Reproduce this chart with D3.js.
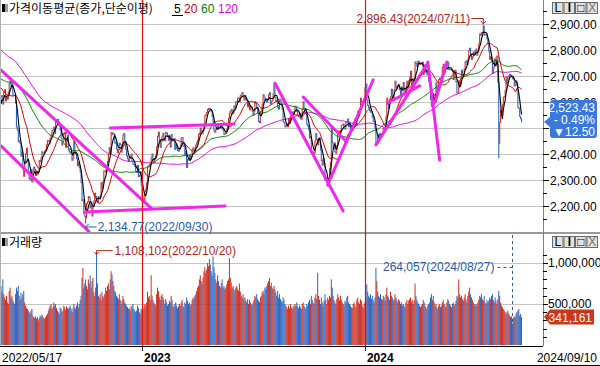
<!DOCTYPE html>
<html><head><meta charset="utf-8">
<script src="https://cdn.jsdelivr.net/npm/d3@7"></script>
<style>
body{margin:0;background:#fff;}
svg{display:block;}
text{font-family:"Liberation Sans",Arial,sans-serif;font-size:12px;}
.kr{font-family:"Noto Sans CJK KR","Liberation Sans",sans-serif;}
</style>
</head><body>
<svg id="c" width="600" height="366"></svg>
<script>
// ---------- DATA ----------
// closes before 2022/05/17 (only used for moving averages)
const preCloses = [
2968,2999,2997,2962,2947,2971,3013,2997,2994,2980,2936,2839,
2899,2945,2968,2973,2991,3001,3029,3009,2989,3006,2989,2990,3017,2963,2977,2984,2998,3012,3020,2993,2977,
2989,2953,2907,2920,2954,2926,2927,2972,2962,2921,2890,2864,2862,2842,2834,2792,2720,2614,2663,
2757,2750,2745,2772,2768,2772,2747,2704,2676,2718,2744,2743,2744,2706,2719,2648,2676,2705,2699,
2703,2713,2651,2622,2680,2661,2645,2621,2659,2694,2707,2686,2734,2729,2707,2729,2741,2746,2757,2739,2741,
2739,2757,2759,2735,2700,2693,2700,2666,2716,2696,2718,2728,2704,2718,2657,2639,2668,2695,2687,2680,2677,
2644,2610,2596,2550,2592,2604,2596];

// daily closes 2022/05/17 .. 2024/09/10
const closes = [
// 2022
2620,2625,2592,2639,2647,2605,2617,2612,2638,2670,2685,
2658,2670,2626,2626,2625,2595,2504,2492,2447,2451,2440,2391,2408,2342,2314,2366,2401,2422,2377,2332,
2305,2300,2341,2292,2334,2350,2340,2317,2328,2322,2330,2375,2370,2386,2409,2403,2403,2412,2415,2435,2451,
2452,2439,2461,2473,2490,2493,2503,2480,2523,2527,2533,2516,2508,2492,2462,2435,2447,2477,2481,2426,2450,2472,
2415,2409,2403,2410,2376,2384,2449,2411,2401,2382,2355,2367,2347,2332,2290,2220,2224,2170,2161,2155,
2209,2215,2237,2232,2192,2202,2162,2212,2219,2249,2237,2218,2213,2236,2235,2235,2289,2268,2293,
2335,2336,2329,2348,2371,2399,2424,2402,2483,2474,2480,2477,2442,2444,2419,2405,2417,2441,2437,2408,2433,2472,
2479,2434,2419,2393,2382,2371,2389,2389,2399,2373,2361,2360,2352,2333,2329,2356,2313,2317,2332,2280,2236,
// 2023
2225,2219,2255,2264,2289,2350,2351,2359,2365,2386,2400,2379,2368,2380,2395,2428,2468,2484,2450,2425,
2449,2468,2480,2454,2451,2483,2481,2469,2453,2465,2427,2475,2451,2455,2458,2417,2439,2423,2413,2412,
2421,2432,2462,2463,2431,2432,2394,2410,2348,2379,2377,2395,2379,2388,2417,2424,2415,2409,2434,2443,2453,2476,
2480,2500,2490,2478,2490,2512,2547,2550,2561,2571,2575,2575,2571,2564,2544,2523,2489,2484,2495,2501,
2506,2500,2500,2509,2510,2496,2491,2475,2479,2480,2494,2515,2537,2557,2565,2571,2554,2558,2585,2577,
2601,2601,2615,2615,2601,2625,2629,2637,2619,2608,2625,2609,2605,2582,2593,2570,2582,2581,2564,2550,2564,
2602,2593,2579,2556,2526,2520,2563,2574,2591,2628,2619,2607,2608,2599,2609,2628,2636,2592,2603,2608,2632,
2667,2616,2605,2602,2580,2573,2605,2601,2591,2570,2525,2519,2504,2508,2515,2505,2537,2519,2543,2552,2561,2556,
2563,2584,2582,2563,2548,2547,2556,2536,2534,2572,2601,2574,2559,2559,2514,2508,2495,2462,2465,
2405,2403,2408,2402,2450,2479,2456,2436,2460,2462,2415,2375,2357,2383,2363,2299,2302,2310,2277,
2301,2343,2368,2502,2443,2421,2427,2409,2403,2433,2486,2488,2469,2491,2510,2511,2515,2497,2496,2522,2520,2535,
2505,2514,2495,2492,2492,2518,2525,2535,2510,2544,2563,2566,2568,2614,2600,2600,2602,2613,2655,
// 2024
2669,2607,2587,2578,2567,2561,2562,2541,2525,2525,2497,2436,2441,2473,2464,2478,2469,2470,2478,2500,2498,2497,
2543,2615,2591,2576,2609,2620,2649,2620,2613,2648,2680,2657,2653,2664,2667,2647,2625,2658,2642,
2675,2649,2641,2647,2680,2660,2682,2693,2718,2666,2686,2656,2690,2754,2748,2737,2757,2755,2745,2746,
2747,2753,2706,2742,2714,2717,2705,2706,2681,2670,2610,2585,2634,2591,2629,2623,2675,2628,2656,2687,2692,
2683,2676,2734,2745,2712,2727,2727,2730,2753,2725,2724,2724,2723,2721,2687,2722,2722,2677,2635,2636,
2682,2662,2689,2722,2701,2705,2728,2754,2758,2744,2763,2797,2807,2784,2764,2774,2792,2784,2797,
2804,2780,2794,2824,2862,2858,2867,2867,2891,2857,2860,2860,2843,2824,2795,2764,2774,2758,2710,2731,2765,2738,2770,
2777,2676,2441,2522,2568,2556,2588,2618,2621,2644,2697,2674,2696,2701,2707,2701,2698,2689,2689,2662,2674,
2681,2664,2580,2576,2544,2535.93,2523.43];

// daily volume, in units of 10,000
const volumes = [
// 2022
72,65,80,62,58,55,60,52,50,66,70,
58,60,55,52,50,62,70,66,72,60,55,64,58,62,66,52,48,45,44,42,
40,38,42,44,36,34,33,35,32,34,30,33,36,34,37,35,33,32,34,36,38,
42,45,48,50,44,46,52,48,50,45,42,40,38,46,44,40,42,48,46,43,47,45,
44,46,48,42,45,40,50,46,44,48,52,46,50,55,60,82,94,70,75,80,
72,68,80,75,85,70,78,82,65,60,70,110.8102,75,60,58,62,55,65,60,
58,62,70,66,72,75,68,80,90,86,78,72,66,64,60,58,56,62,55,50,54,60,
56,52,50,48,46,44,45,42,48,46,50,44,42,40,42,48,45,40,38,44,42,
// 2023
42,45,50,48,52,65,58,60,55,85,60,55,52,50,48,62,70,66,58,55,
60,62,58,55,50,56,52,48,50,54,52,60,55,48,46,50,52,48,45,47,
50,48,52,55,48,46,52,50,58,54,50,52,48,50,55,58,56,60,62,66,70,72,
80,85,78,75,82,90,95,88,92,100,96,105,98,90,85,108,95,88,80,76,
85,78,72,70,75,80,70,72,68,70,74,78,80,106,82,76,70,72,68,66,
70,72,68,66,75,65,60,58,62,56,58,54,52,56,50,55,52,50,48,52,55,
60,58,62,56,54,52,58,60,64,66,62,70,68,72,75,78,82,72,76,70,68,
72,68,64,60,66,58,62,56,54,52,58,55,50,48,46,44,48,45,50,46,44,48,
46,50,48,52,47,45,48,46,44,50,52,48,46,44,50,48,52,55,50,
60,55,52,50,58,62,56,88,60,55,50,58,52,48,54,62,55,50,58,
55,60,58,80,70,60,55,52,50,56,62,58,54,60,55,52,50,48,54,52,58,60,
52,50,48,46,45,50,52,48,46,55,58,52,50,56,54,48,45,50,52,
// 2024
55,74,65,60,58,62,56,60,55,52,58,94,78,65,60,58,62,56,55,60,58,54,
62,70,60,58,55,65,60,58,54,56,62,58,55,52,56,54,50,52,48,
50,48,46,52,55,50,54,56,58,52,55,50,54,75,60,55,52,50,48,46,
48,50,55,52,48,46,44,48,50,52,58,62,55,60,52,48,50,46,44,48,50,
46,48,52,55,50,48,46,52,56,54,50,48,46,50,52,48,50,54,60,58,
80,62,58,60,56,54,58,62,56,52,60,65,70,62,58,55,52,50,48,
50,48,52,55,60,58,62,56,54,60,52,50,55,52,54,58,56,60,62,55,52,58,54,
50,56,66,60,52,48,46,44,42,40,38,40,42,38,36,34,35,26.4057,33,35,34,
38,40,42,44,36,38,34.1161];
const volumeUnit = 10000;

// intraday extremes that go beyond open/close
const extremeDates  = ["2022-09-30", "2024-07-11", "2024-08-05"];
const extremeHighs  = [null, 2896.43, null];
const extremeLows   = [2134.77, null, 2386.96];

const holidays = ["2022-06-01","2022-06-06","2022-08-15","2022-09-09","2022-09-12","2022-10-03","2022-10-10","2022-12-30",
"2023-01-23","2023-01-24","2023-03-01","2023-05-01","2023-05-05","2023-05-29","2023-06-06","2023-08-15","2023-09-28","2023-09-29",
"2023-10-02","2023-10-03","2023-10-09","2023-12-25","2023-12-29","2024-01-01","2024-02-09","2024-02-12","2024-03-01","2024-04-10",
"2024-05-01","2024-05-06","2024-05-15","2024-06-06","2024-08-15"];

const priceTicks = [2200,2300,2400,2500,2600,2700,2800,2900];
const volumeTicks = [500000, 1000000];
const maPeriods = [5, 20, 60, 120];
const maLabels = ["5", "20", "60", "120"];

// user-drawn trend lines: [index1, price1, index2, price2]
const trendLines = [
 [0,2723,165,2192],
 [0,2431,97,2100],
 [120,2500,256,2515],
 [92,2177,246,2200],
 [301,2673,376,2181],
 [332,2619,380,2446],
 [359,2281,409,2685],
 [412,2435,469,2750],
 [425,2596,460,2662],
 [469,2754,482,2377],
 [477,2600,490,2754]
];

// ---------- BUILD ----------
const N = closes.length;
const hol = new Set(holidays);
const dates = [];
for (let t = Date.UTC(2022,4,17); dates.length < N && t <= Date.UTC(2024,8,10); t += 86400000) {
  const d = new Date(t), wd = d.getUTCDay(), s = d.toISOString().slice(0,10);
  if (wd === 0 || wd === 6 || hol.has(s)) continue;
  dates.push(s);
}
const all = preCloses.concat(closes);
const P0 = preCloses.length;
const bars = closes.map((c, i) => {
  const o = i ? closes[i-1] : preCloses[P0-1];
  let hi = Math.max(o, c), lo = Math.min(o, c);
  const k = extremeDates.indexOf(dates[i]);
  if (k >= 0) { if (extremeHighs[k] != null) hi = extremeHighs[k]; if (extremeLows[k] != null) lo = extremeLows[k]; }
  return {i, o, c, hi, lo, v: volumes[i] * volumeUnit, date: dates[i]};
});
const mas = maPeriods.map(p => closes.map((c, i) => {
  const j = P0 + i; return d3.mean(all.slice(j - p + 1, j + 1));
}));

const svg = d3.select("#c");
const AX = 543;
const x = d3.scaleLinear().domain([0, N-1]).range([1, 1 + (N-1)*0.91]);
const yP = d3.scaleLinear().domain([2200, 2900]).range([206, 24]);
const yV = d3.scaleLinear().domain([0, 1000000]).range([345, 263]);

const defs = svg.append("defs");
defs.append("clipPath").attr("id","cp").append("rect").attr("x",0).attr("y",0).attr("width",AX).attr("height",232);
defs.append("clipPath").attr("id","cv").append("rect").attr("x",0).attr("y",234).attr("width",AX).attr("height",112);
defs.append("clipPath").attr("id","ctag").append("rect").attr("x",AX).attr("y",0).attr("width",60).attr("height",100);

const UP = "#d4301e", DN = "#2c66c4";
const grid = "#c4c4c4";

// gridlines
svg.append("g").selectAll("line").data(priceTicks).join("line")
  .attr("x1",0).attr("x2",AX).attr("y1",d=>Math.round(yP(d))+0.5).attr("y2",d=>Math.round(yP(d))+0.5)
  .attr("stroke",grid);
svg.append("g").selectAll("line").data(volumeTicks).join("line")
  .attr("x1",0).attr("x2",AX).attr("y1",d=>Math.round(yV(d))+0.5).attr("y2",d=>Math.round(yV(d))+0.5)
  .attr("stroke",grid);

// price panel
const gp = svg.append("g").attr("clip-path","url(#cp)");
gp.append("g").selectAll("line").data(bars).join("line")
  .attr("x1",d=>x(d.i)).attr("x2",d=>x(d.i))
  .attr("y1",d=>yP(d.hi)-0.5).attr("y2",d=>yP(d.lo)+0.5)
  .attr("stroke",d=>d.c>=d.o?UP:DN).attr("stroke-width",1.1);
const maColors = ["#000000","#d00000","#008000","#e000e0"];
const maOrder = [3,2,1,0];
maOrder.forEach(k => {
  gp.append("path").datum(mas[k]).attr("fill","none").attr("stroke",maColors[k])
    .attr("stroke-width", k===0 ? 1.1 : 1)
    .attr("d", d3.line().x((v,i)=>x(i)).y(v=>yP(v)));
});
gp.append("g").selectAll("line").data(trendLines).join("line")
  .attr("x1",d=>x(d[0])).attr("y1",d=>yP(d[1])).attr("x2",d=>x(d[2])).attr("y2",d=>yP(d[3]))
  .attr("stroke","#f028ec").attr("stroke-width",3).attr("stroke-linecap","round");

// volume panel
const gv = svg.append("g").attr("clip-path","url(#cv)");
gv.append("g").selectAll("rect").data(bars).join("rect")
  .attr("x",d=>x(d.i)-0.5).attr("width",1)
  .attr("y",d=>yV(d.v)).attr("height",d=>yV(0)-yV(d.v))
  .attr("fill",d=>d.c>=d.o?UP:DN);

// panel frames
svg.append("line").attr("x1",0).attr("x2",600).attr("y1",233).attr("y2",233).attr("stroke","#9a9a9a").attr("stroke-width",2);
svg.append("line").attr("x1",AX+0.5).attr("x2",AX+0.5).attr("y1",0).attr("y2",346).attr("stroke","#808080");
svg.append("line").attr("x1",0.5).attr("x2",0.5).attr("y1",0).attr("y2",346).attr("stroke","#b0b0b0");
svg.append("line").attr("x1",0).attr("x2",AX).attr("y1",346.5).attr("y2",346.5).attr("stroke","#000");
svg.append("line").attr("x1",0).attr("x2",600).attr("y1",365.5).attr("y2",365.5).attr("stroke","#000");

// price axis (labels under the last-price tag are hidden, as in the reference)
const ga = svg.append("g");
ga.selectAll("line.maj").data(priceTicks).join("line").attr("class","maj")
  .attr("x1",AX).attr("x2",AX+6).attr("y1",d=>Math.round(yP(d))+0.5).attr("y2",d=>Math.round(yP(d))+0.5).attr("stroke","#000");
ga.selectAll("line.min").data(d3.range(2150, 2960, 100)).join("line").attr("class","min")
  .attr("x1",AX).attr("x2",AX+4).attr("y1",d=>Math.round(yP(d))+0.5).attr("y2",d=>Math.round(yP(d))+0.5).attr("stroke","#000");
const lastClose = closes[N-1];
const tagTop = 100, tagBottom = 138;
const freeTicks = priceTicks.filter(d => yP(d) + 4.5 < tagTop || yP(d) - 5 > tagBottom);
const partTicks = priceTicks.filter(d => !freeTicks.includes(d) && yP(d) - 5 < tagTop);
ga.append("g").selectAll("text").data(freeTicks).join("text")
  .attr("x",AX+7).attr("y",d=>yP(d)+4.5).text(d=>d3.format(",.2f")(d));
ga.append("g").attr("clip-path","url(#ctag)").selectAll("text").data(partTicks).join("text")
  .attr("x",AX+7).attr("y",d=>yP(d)+4.5).text(d=>d3.format(",.2f")(d));
// volume axis
ga.append("g").selectAll("line").data(d3.range(100000, 1150000, 100000)).join("line")
  .attr("x1",AX).attr("x2",d=>AX+(d%500000===0?5:4)).attr("y1",d=>Math.round(yV(d))+0.5).attr("y2",d=>Math.round(yV(d))+0.5).attr("stroke","#000");
ga.append("g").selectAll("text").data(volumeTicks).join("text")
  .attr("x",AX+5).attr("y",d=>yV(d)+4).attr("font-size","11px").text(d=>d3.format(",")(d));

// year separators (drawn on top)
const yearStarts = ["2023","2024"].map(y => dates.findIndex(d => d.startsWith(y)));
const sepX = d => Math.round(x(d) - 0.5) + 0.5;
svg.append("g").selectAll("line").data(yearStarts).join("line")
  .attr("x1",sepX).attr("x2",sepX).attr("y1",0).attr("y2",346)
  .attr("stroke","#e01010").attr("stroke-width",1.2);

// x axis
svg.append("g").selectAll("line").data(yearStarts).join("line")
  .attr("x1",sepX).attr("x2",sepX).attr("y1",346).attr("y2",351).attr("stroke","#000");
svg.append("g").selectAll("text").data(yearStarts).join("text")
  .attr("x",d=>x(d)+1).attr("y",362).attr("font-weight","bold").text(d=>dates[d].slice(0,4));
svg.append("text").attr("x",2).attr("y",362).text(dates[0].replace(/-/g,"/"));
svg.append("text").attr("x",597).attr("y",362).attr("text-anchor","end").text(dates[N-1].replace(/-/g,"/"));

// titles
function icon(y){ svg.append("rect").attr("x",2).attr("y",y).attr("width",3).attr("height",8).attr("fill","#000");
  svg.append("rect").attr("x",5).attr("y",y).attr("width",3).attr("height",8).attr("fill","#9a9a9a"); }
icon(4); icon(238);
svg.append("text").attr("class","kr").attr("x",9).attr("y",13).text("가격이동평균(종가,단순이평)");
const lx = [174, 184, 201, 218];
svg.append("g").selectAll("text").data(maLabels).join("text")
  .attr("x",(d,i)=>lx[i]).attr("y",13).attr("fill",(d,i)=>maColors[i]).text(d=>d);
svg.append("line").attr("x1",172).attr("x2",183).attr("y1",15.5).attr("y2",15.5).attr("stroke","#000");
svg.append("text").attr("class","kr").attr("x",9).attr("y",247).text("거래량");

// buttons
function buttons(y){
  ["L","I","□","X"].forEach((t,k)=>{
    const bx = 552 + k*11.5;
    svg.append("rect").attr("x",bx+0.5).attr("y",y+0.5).attr("width",10.5).attr("height",11).attr("fill","#e4e2dc").attr("stroke","#6a6a6a");
    svg.append("text").attr("x",bx+5.8).attr("y",y+10).attr("text-anchor","middle").attr("font-size",t==="□"?"10px":"11px")
      .attr("font-weight",t==="I"?"bold":"normal").attr("fill",t==="X"?"#707070":"#000").text(t);
  });
}
buttons(2); buttons(236);

// annotations
const RED = "#b3261e", BLUE = "#2a5aa8";
const iMax = d3.maxIndex(bars, d=>d.hi), iMin = d3.minIndex(bars, d=>d.lo);
const vMax = d3.maxIndex(bars, d=>d.v), vMin = d3.minIndex(bars, d=>d.v);
const fmtD = s => s.replace(/-/g,"/");
// high
{ const xi = x(iMax), b = bars[iMax];
  svg.append("text").attr("x",xi-13).attr("y",23).attr("text-anchor","end").attr("fill",RED)
    .text(d3.format(",.2f")(b.hi)+"("+fmtD(b.date)+")");
  svg.append("path").attr("d",`M${xi-12},18.5H${xi}V${yP(b.hi)-1}`).attr("fill","none").attr("stroke",RED);
  svg.append("path").attr("d",`M${xi-2.5},${yP(b.hi)-4}L${xi},${yP(b.hi)-1}L${xi+2.5},${yP(b.hi)-4}`).attr("fill","none").attr("stroke",RED);
}
// low
{ const xi = x(iMin), b = bars[iMin], yy = yP(b.lo)+4;
  svg.append("text").attr("x",xi+12).attr("y",yy+4.5).attr("fill",BLUE)
    .text(d3.format(",.2f")(b.lo)+"("+fmtD(b.date)+")");
  svg.append("path").attr("d",`M${xi},${yy}H${xi+11}`).attr("fill","none").attr("stroke",BLUE);
  svg.append("path").attr("d",`M${xi+3},${yy-3}L${xi},${yy}L${xi+3},${yy+3}`).attr("fill","none").attr("stroke",BLUE);
}
// volume max
{ const xi = x(vMax), b = bars[vMax], yt = yV(b.v);
  svg.append("text").attr("x",xi+18).attr("y",yt+1).attr("fill",RED)
    .text(d3.format(",")(Math.round(b.v))+"("+fmtD(b.date)+")");
  svg.append("path").attr("d",`M${xi+16},${yt-3.5}H${xi}V${yt}`).attr("fill","none").attr("stroke",RED);
  svg.append("path").attr("d",`M${xi-2.5},${yt-2}L${xi},${yt+0.5}L${xi+2.5},${yt-2}`).attr("fill","none").attr("stroke",RED);
}
// volume min
{ const xi = x(vMin), b = bars[vMin];
  svg.append("text").attr("x",xi-18).attr("y",271).attr("text-anchor","end").attr("fill",BLUE)
    .text(d3.format(",")(Math.round(b.v))+"("+fmtD(b.date)+")");
  svg.append("path").attr("d",`M${xi-15},267.5H${xi}`).attr("stroke",BLUE).attr("stroke-dasharray","3,3");
  svg.append("path").attr("d",`M${Math.round(xi)+0.5},235V${yV(b.v)}`).attr("stroke",BLUE).attr("stroke-dasharray","3,3");
}

// last value tags
{ const last = bars[N-1], prev = bars[N-2].c, chg = last.c - prev;
  const yc = yP(last.c);
  svg.append("path").attr("d",`M544,${yc}L550,${yc-5}V${tagTop+3}Q550,${tagTop} 553,${tagTop}H594Q597,${tagTop} 597,${tagTop+3}V${tagBottom-3}Q597,${tagBottom} 594,${tagBottom}H553Q550,${tagBottom} 550,${tagBottom-3}V${yc+5}Z`)
    .attr("fill","#3b78dc");
  const t = [d3.format(",.2f")(last.c), (chg<0?"- ":"+ ")+d3.format(".2f")(Math.abs(chg/prev*100))+"%", (chg<0?"▼":"▲")+d3.format(".2f")(Math.abs(chg))];
  svg.append("text").attr("text-anchor","end").attr("font-size","10.5px").attr("fill","#fff")
    .selectAll("tspan").data(t).join("tspan")
    .attr("x",595).attr("y",(d,k)=>111.5+k*12.3).text(d=>d);
  const yvc = yV(last.v);
  svg.append("path").attr("d",`M544,${yvc}L550,${yvc-7.5}H594V${yvc+7.5}H550Z`).attr("fill","#c8381a");
  svg.append("text").attr("x",592).attr("y",yvc+4.5).attr("text-anchor","end").attr("fill","#fff").text(d3.format(",")(Math.round(last.v)));
}
</script>
</body></html>
